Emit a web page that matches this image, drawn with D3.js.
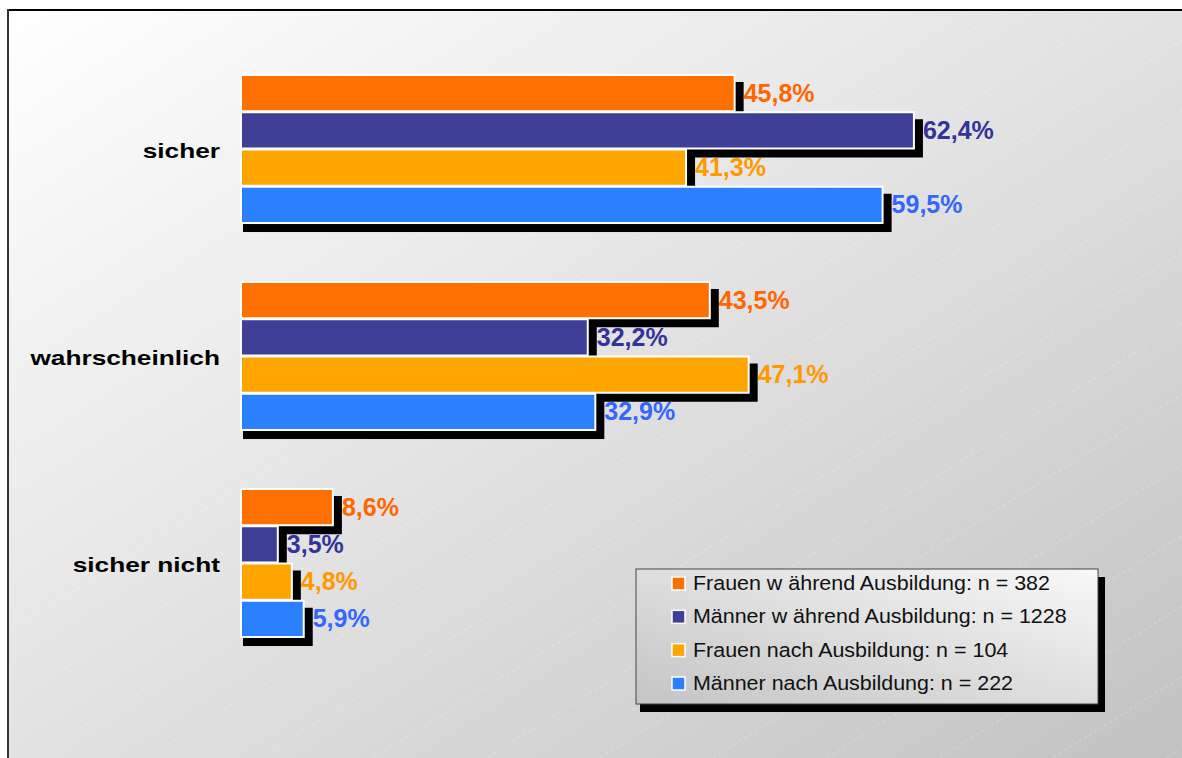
<!DOCTYPE html>
<html><head><meta charset="utf-8">
<script src="https://cdn.jsdelivr.net/npm/d3@7"></script>
<style>html,body{margin:0;padding:0;background:#fff;overflow:hidden}svg{display:block}</style>
</head><body>
<svg id="chart" width="1182" height="758"></svg>
<script>
const categories = ["sicher", "wahrscheinlich", "sicher nicht"];
const seriesNames = [
  "Frauen w ährend Ausbildung: n = 382",
  "Männer w ährend Ausbildung: n = 1228",
  "Frauen nach Ausbildung: n = 104",
  "Männer nach Ausbildung: n = 222"
];
const frauenWaehrend = [45.8, 43.5, 8.6];
const maennerWaehrend = [62.4, 32.2, 3.5];
const frauenNach = [41.3, 47.1, 4.8];
const maennerNach = [59.5, 32.9, 5.9];
const seriesValues = [frauenWaehrend, maennerWaehrend, frauenNach, maennerNach];
const barColors = ["#FF7000", "#3F3F98", "#FFA500", "#2B80FF"];
const textColors = ["#FF6600", "#333399", "#FF9900", "#3366FF"];

const FONT = "'Liberation Sans', Arial, Helvetica, sans-serif";
const svg = d3.select("#chart");
const defs = svg.append("defs");
const bg = defs.append("linearGradient").attr("id","bg").attr("x1","0").attr("y1","0").attr("x2","1").attr("y2","1");
bg.append("stop").attr("offset","0%").attr("stop-color","#ffffff");
bg.append("stop").attr("offset","50%").attr("stop-color","#e2e2e2");
bg.append("stop").attr("offset","100%").attr("stop-color","#c2c2c2");
const lg = defs.append("linearGradient").attr("id","lg").attr("x1","0").attr("y1","1").attr("x2","1").attr("y2","0");
lg.append("stop").attr("offset","0%").attr("stop-color","#c4c4c4");
lg.append("stop").attr("offset","100%").attr("stop-color","#f8f8f8");
const pat = defs.append("pattern").attr("id","hatch").attr("patternUnits","userSpaceOnUse")
  .attr("width",60).attr("height",60).attr("patternTransform","rotate(-32)");
pat.append("line").attr("x1",0).attr("y1",0).attr("x2",60).attr("y2",0)
  .attr("stroke","#ffffff").attr("stroke-width",1).attr("stroke-dasharray","3,3").attr("opacity",0.5);

// background & frame
svg.append("rect").attr("x",8).attr("y",10).attr("width",1174).attr("height",748).attr("fill","url(#bg)");
svg.append("rect").attr("x",8).attr("y",10).attr("width",1174).attr("height",748).attr("fill","url(#hatch)");
svg.append("line").attr("x1",7).attr("y1",10).attr("x2",1182).attr("y2",10).attr("stroke","#000").attr("stroke-width",2);
svg.append("line").attr("x1",8).attr("y1",9).attr("x2",8).attr("y2",758).attr("stroke","#333").attr("stroke-width",2);

const x = d3.scaleLinear().domain([0,100]).range([240,1320]);
const y = d3.scaleBand().domain(categories).range([45,666]).paddingInner(0.28).paddingOuter(0.14);
const ys = d3.scaleBand().domain(d3.range(4)).range([0, y.bandwidth()]);

const g = svg.append("g");
categories.forEach((c, ci) => {
  seriesValues.forEach((vals, si) => {
    const v = vals[ci];
    const y0 = y(c) + ys(si);
    const h = ys.bandwidth();
    g.append("rect").attr("x", x(0)+3).attr("y", y0+8)
      .attr("width", x(v)-x(0)+6).attr("height", h+1).attr("fill","#000");
    g.append("rect").attr("x", x(0)+1).attr("y", y0+1)
      .attr("width", x(v)-x(0)-1).attr("height", h-1)
      .attr("fill", barColors[si]).attr("stroke","#fff").attr("stroke-width",2);
  });
});
// value labels
categories.forEach((c, ci) => {
  seriesValues.forEach((vals, si) => {
    const v = vals[ci];
    const cy = y(c) + ys(si) + ys.bandwidth()/2;
    svg.append("text")
      .attr("x", x(v)+9).attr("y", cy+9)
      .attr("font-family",FONT)
      .attr("font-weight","bold").attr("font-size",25)
      .attr("fill", textColors[si])
      .text(v.toFixed(1).replace(".", ",") + "%");
  });
});
// category labels
categories.forEach(c => {
  svg.append("text")
    .attr("transform", `translate(220,${y(c)+y.bandwidth()/2+9}) scale(1.25,1)`)
    .attr("text-anchor","end")
    .attr("font-family",FONT)
    .attr("font-weight","bold").attr("font-size",21)
    .attr("fill","#000").text(c);
});

// legend
const L = {x:636, y:569, w:462, h:135};
svg.append("rect").attr("x",L.x+4).attr("y",L.y+8).attr("width",L.w+3).attr("height",L.h).attr("fill","#000");
svg.append("rect").attr("x",L.x).attr("y",L.y).attr("width",L.w).attr("height",L.h)
  .attr("fill","url(#lg)").attr("stroke","#444").attr("stroke-width",1);
const rowY = d3.scalePoint().domain(d3.range(4)).range([583, 683]);
seriesNames.forEach((n, i) => {
  svg.append("rect").attr("x",672).attr("y",rowY(i)-6).attr("width",13).attr("height",13)
    .attr("fill",barColors[i]).attr("stroke","#fff").attr("stroke-width",1.5);
  svg.append("text")
    .attr("transform", `translate(693,${rowY(i)+7}) scale(1.1,1)`)
    .attr("font-family",FONT).attr("font-size",19.5)
    .attr("fill","#111").text(n);
});
</script>
</body></html>
